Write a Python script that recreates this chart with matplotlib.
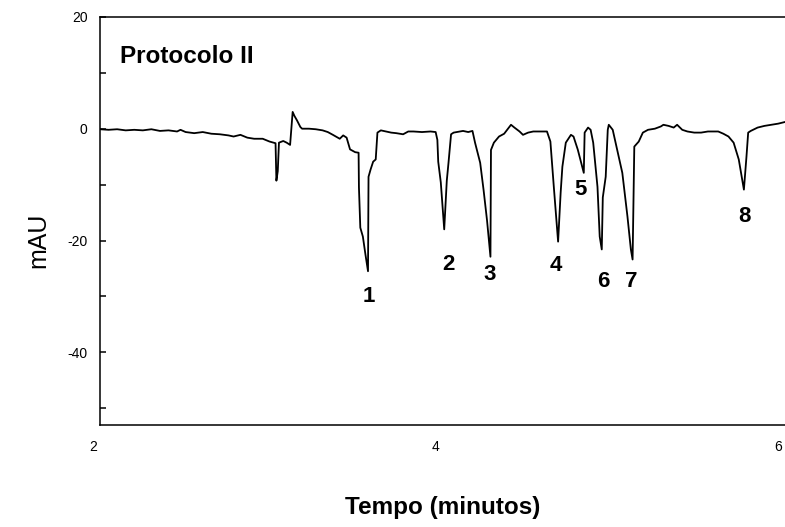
import matplotlib.pyplot as plt
import matplotlib.transforms as mtransforms
from matplotlib.ticker import MultipleLocator

plt.rcParams['font.family'] = ['Liberation Sans', 'DejaVu Sans']
plt.rcParams['axes.unicode_minus'] = False

# Eletroferograma - tempo (min) x absorbancia (mAU)
tempo = [
    2.000, 2.05, 2.10, 2.15, 2.20, 2.25, 2.30, 2.35, 2.40, 2.45, 2.47, 2.50,
    2.55, 2.60, 2.65, 2.70, 2.75, 2.78, 2.82, 2.86, 2.90, 2.95, 2.99, 3.025,
    3.030, 3.038, 3.045, 3.07, 3.09, 3.11, 3.115, 3.125, 3.135, 3.15, 3.17,
    3.18, 3.22, 3.26, 3.30, 3.33, 3.36, 3.40, 3.42, 3.44, 3.46, 3.49, 3.51,
    3.512, 3.52, 3.535, 3.55, 3.565, 3.568, 3.58, 3.595, 3.61, 3.62, 3.64,
    3.70, 3.73, 3.77, 3.80, 3.83, 3.88, 3.93, 3.96, 3.97, 3.975, 3.99, 4.01,
    4.025, 4.035, 4.05, 4.065, 4.10, 4.12, 4.15, 4.175, 4.19, 4.22, 4.24,
    4.26, 4.28, 4.283, 4.30, 4.33, 4.36, 4.40, 4.42, 4.45, 4.47, 4.50, 4.53,
    4.58, 4.61, 4.63, 4.65, 4.675, 4.69, 4.70, 4.72, 4.75, 4.765, 4.79, 4.81,
    4.825, 4.83, 4.85, 4.865, 4.88, 4.905, 4.918, 4.93, 4.936, 4.953, 4.965,
    4.971, 4.994, 5.02, 5.05, 5.08, 5.10, 5.11, 5.117, 5.12, 5.146, 5.17,
    5.20, 5.24, 5.275, 5.29, 5.32, 5.35, 5.37, 5.40, 5.43, 5.47, 5.51, 5.55,
    5.61, 5.64, 5.67, 5.70, 5.73, 5.76, 5.775, 5.785, 5.80, 5.84, 5.88, 5.92,
    5.96, 6.00,
]
mau = [
    -0.1, -0.2, -0.1, -0.3, -0.2, -0.3, -0.1, -0.4, -0.3, -0.5, -0.2, -0.6,
    -0.8, -0.6, -0.9, -1.0, -1.2, -1.4, -1.1, -1.6, -1.8, -1.8, -2.3, -2.6,
    -9.3, -7.6, -2.5, -2.2, -2.5, -2.9, -1.0, 3.0, 2.3, 1.5, 0.3,
    0.0, 0.0, -0.1, -0.3, -0.6, -1.1, -1.8, -1.2, -1.6, -3.7, -4.2, -4.3,
    -10.5, -17.7, -19.3, -22.5, -25.5, -8.6, -7.3, -5.9, -5.5, -0.7, -0.3,
    -0.7, -0.8, -1.0, -0.5, -0.5, -0.6, -0.5, -0.6, -2.0, -5.9, -9.6, -18.0,
    -9.3, -6.1, -1.0, -0.7, -0.5, -0.4, -0.6, -0.4, -2.5, -6.1, -11.0,
    -16.4, -22.9, -3.8, -2.5, -1.4, -0.9, 0.7, 0.2, -0.5, -1.1, -0.7, -0.5,
    -0.5, -0.5, -2.3, -10.4, -20.2, -11.4, -6.8, -2.5, -1.1, -1.4, -3.75, -6.1,
    -7.9, -0.7, 0.2, -0.2, -2.5, -10.4, -19.3, -21.6, -12.3, -8.6, -0.2,
    0.7, -0.2, -3.75, -7.9, -15.7, -21.6, -23.4, -8.6, -3.2, -2.3, -0.7,
    -0.2, 0.0, 0.4, 0.7, 0.5, 0.2, 0.7, -0.2, -0.5, -0.7, -0.7, -0.5,
    -0.5, -0.9, -1.4, -2.5, -5.5, -10.9, -5.0, -0.7, -0.4, 0.2, 0.5, 0.7,
    0.9, 1.2,
]

# rotulos dos picos
picos = ['1', '2', '3', '4', '5', '6', '7', '8']
picos_x = [3.567, 4.035, 4.275, 4.661, 4.807, 4.94, 5.105, 5.766]
picos_y = [-30.0, -24.3, -26.1, -24.5, -10.9, -27.3, -27.3, -15.7]

fig = plt.figure(figsize=(7.85, 5.27), dpi=100)
ax = fig.add_axes([0.1274, 0.1935, 0.8726, 0.7745])

ax.plot(tempo, mau, color='black', linewidth=1.3)

for rot, px, py in zip(picos, picos_x, picos_y):
    ax.text(px, py, rot, fontsize=16, fontweight='bold', ha='center', va='center')

ax.text(2.117, 12.9, 'Protocolo II', fontsize=17.5, fontweight='bold',
        ha='left', va='center')

ax.set_xlim(2, 6)
ax.set_ylim(-53, 20)
ax.set_xticks([2, 4, 6])
ax.set_yticks([20, 0, -20, -40])
ax.yaxis.set_minor_locator(MultipleLocator(10))

ax.tick_params(axis='y', which='both', direction='in', length=4, width=1.1,
               labelsize=10, pad=9)
ax.tick_params(axis='x', length=0, labelsize=10, pad=11)

# rotulos do eixo x levemente deslocados para a esquerda
desloc = mtransforms.ScaledTranslation(-7 / 100, 0, fig.dpi_scale_trans)
for lbl in ax.get_xticklabels():
    lbl.set_transform(lbl.get_transform() + desloc)

for lado in ['left', 'bottom', 'top']:
    ax.spines[lado].set_linewidth(1.1)
ax.spines['right'].set_visible(False)

ax.set_ylabel('mAU', fontsize=18)
ax.yaxis.set_label_coords(-0.072, 0.453)
ax.set_xlabel('Tempo (minutos)', fontsize=17.5, fontweight='bold', labelpad=30)

fig.savefig('out.png', dpi=100)
